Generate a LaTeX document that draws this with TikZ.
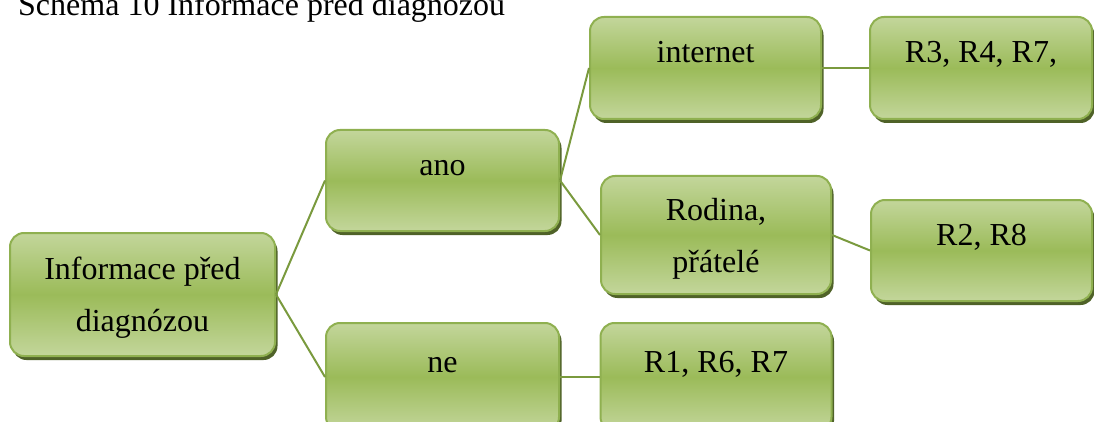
\documentclass[tikz,border=0pt]{standalone}
\usepackage{fontspec}
\setmainfont{Liberation Serif}
\usepackage{tikz}
\usetikzlibrary{positioning, shadows}
\definecolor{boxlight}{HTML}{C3D69B}
\definecolor{boxmid}{HTML}{9BBB59}
\definecolor{boxedge}{HTML}{8FB050}
\definecolor{boxshade}{HTML}{4F6228}
\definecolor{linkgreen}{HTML}{7A9A3E}
\tikzset{mybox/.style = {draw=boxedge, line width=2pt, rounded corners=14pt,
		top color=boxlight, bottom color=boxlight, middle color=boxmid,
		drop shadow={shadow xshift=2.5pt, shadow yshift=-4pt, fill=boxshade, opacity=1},
		inner sep=0pt, align=center, font=\fontsize{32}{52}\selectfont,
		text height=22pt, text depth=32pt, minimum width=231pt, minimum height=101pt}}
\tikzset{twoline/.style = {text height=84pt, text depth=10pt}}
\tikzset{mylink/.style = {draw=linkgreen, line width=2pt}}

\begin{document}
\begin{tikzpicture}[x=1pt, y=-1pt]
\useasboundingbox (0,0) rectangle (1094,422);
\node[anchor=base west, inner sep=0pt, font=\fontsize{32}{38}\selectfont] (title) at (18,16) {Schéma 10 Informace před diagnózou};
\node[mybox, twoline, minimum width=265pt, minimum height=123pt] (info) at (142.5,294.5) {Informace před\\diagnózou};
\node[mybox, minimum width=233pt] (ano) at (442.5,180.5) {ano};
\node[mybox, minimum width=233pt, minimum height=108pt] (ne) at (442.5,377) {ne};
\node[mybox, minimum height=102pt] (internet) at (705.5,68) {internet};
\node[mybox, twoline, minimum width=230pt, minimum height=118pt] (rodina) at (716,235) {Rodina,\\přátelé};
\node[mybox, minimum width=222pt, minimum height=102pt] (rtri) at (981,68) {R3, R4, R7,};
\node[mybox, minimum width=221pt] (rdva) at (981.5,250.5) {R2, R8};
\node[mybox, minimum height=108pt] (rjedna) at (716,377) {R1, R6, R7};
% spojnice
\draw[mylink] (info.east) -- (ano.west);
\draw[mylink] (info.east) -- (ne.west);
\draw[mylink] (ano.east) -- (internet.west);
\draw[mylink] (ano.east) -- (rodina.west);
\draw[mylink] (internet.east) -- (rtri.west);
\draw[mylink] (rodina.east) -- (rdva.west);
\draw[mylink] (ne.east) -- (rjedna.west);
\end{tikzpicture}
\end{document}
